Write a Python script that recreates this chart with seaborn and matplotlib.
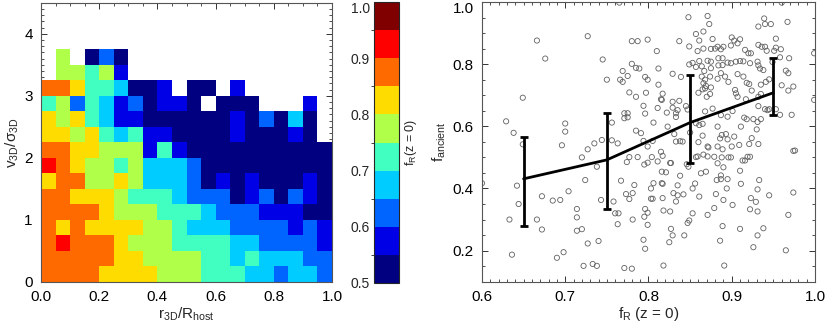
import numpy as np
import pandas as pd
import matplotlib
matplotlib.use("Agg")
import matplotlib.pyplot as plt
from matplotlib.colors import ListedColormap, BoundaryNorm
from matplotlib.ticker import MultipleLocator, FormatStrFormatter
import seaborn as sns

sns.set_style("ticks")
plt.rcParams["font.family"] = ["Liberation Sans", "DejaVu Sans"]
plt.rcParams["mathtext.fontset"] = "custom"
plt.rcParams["mathtext.rm"] = "Liberation Sans"
plt.rcParams["mathtext.it"] = "Liberation Sans:italic"
plt.rcParams["mathtext.default"] = "regular"

# --- left panel: f_R(z=0) binned in r/R_host (columns) and v/sigma (rows, bottom first)
# one digit per cell: level k means f_R in [0.5 + 0.05k, 0.55 + 0.05k), "." = no halos
r_edges = np.linspace(0.0, 1.0, 21)
v_edges = np.linspace(0.0, 3.75, 16)
level_rows = [
    "77776666555444332332",
    "77777665555443433322",
    "78777655544443322221",
    "76766665543332222121",
    "77776555444322211100",
    "77666544432220120210",
    "67755653332010100010",
    "87655453332000000000",
    "77665551410000000000",
    "6656434110000100010.",
    "6564311000000102030.",
    "45243120110.000...1.",
    "776443001.00.1......",
    ".55451..............",
    ".5.020..............",
]
level_colors = ["#000080", "#0000E6", "#0064FF", "#00CCFF", "#40FFC0",
                "#B0FF48", "#FFDC00", "#FF6A00", "#FF0000", "#800000"]
cbar_ticks = [0.5, 0.6, 0.7, 0.8, 0.9, 1.0]

# --- right panel: individual halos
frac_r = [
    0.666, 0.676, 0.727, 0.649, 0.629, 0.638, 0.700, 0.700, 0.649, 0.696, 0.735, 0.727,
    0.720, 0.738, 0.724, 0.600, 0.642, 0.704, 0.672, 0.685, 0.694, 0.644, 0.714, 0.714,
    0.633, 0.666, 0.672, 0.714, 0.720, 0.727, 0.740, 0.636, 0.698, 0.690, 0.722, 0.733,
    0.738,
    0.765, 0.848, 0.871, 0.857, 0.866, 0.780, 0.787, 0.799, 0.837, 0.810, 0.849, 0.861,
    0.859, 0.866, 0.745, 0.780, 0.785, 0.789, 0.812, 0.769, 0.849, 0.853, 0.857, 0.864,
    0.867, 0.750, 0.766, 0.769, 0.775, 0.796, 0.799, 0.829, 0.839, 0.864, 0.868, 0.777,
    0.785, 0.797, 0.812, 0.817, 0.815, 0.860, 0.865, 0.868, 0.794, 0.811, 0.816, 0.829,
    0.837, 0.829, 0.822, 0.833, 0.833, 0.845, 0.771, 0.775, 0.771, 0.796, 0.756, 0.806,
    0.823, 0.785, 0.791, 0.831, 0.857, 0.861, 0.865, 0.865, 0.744, 0.756, 0.763, 0.794,
    0.799, 0.805, 0.838, 0.841, 0.860, 0.774, 0.777, 0.787, 0.795, 0.799, 0.804, 0.811,
    0.815, 0.817, 0.826, 0.827, 0.846, 0.857, 0.859, 0.866, 0.869, 0.863, 0.816, 0.821,
    0.838, 0.767, 0.783, 0.803, 0.806, 0.816, 0.817, 0.835, 0.853, 0.856, 0.773, 0.781,
    0.777, 0.803, 0.805, 0.817, 0.830, 0.835, 0.842, 0.833, 0.861, 0.743, 0.758, 0.760,
    0.764, 0.796, 0.799, 0.795, 0.818, 0.826, 0.853, 0.781, 0.763, 0.799, 0.827, 0.849,
    0.847, 0.871, 0.829, 0.825, 0.843, 0.794, 0.796, 0.771, 0.780, 0.818, 0.835, 0.847,
    0.850, 0.833, 0.848, 0.871, 0.868, 0.871, 0.775, 0.861, 0.871, 0.866, 0.869, 0.870,
    0.873, 0.939, 0.932, 0.940, 0.947, 0.967, 0.877, 0.900, 0.903, 0.910, 0.907, 0.883,
    0.890, 0.899, 0.875, 0.880, 0.887, 0.916, 0.920, 0.923, 0.932, 0.936, 0.940, 0.942,
    0.953, 0.953, 0.951, 0.959, 0.969, 0.875, 0.884, 0.889, 0.895, 0.899, 0.905, 0.910,
    0.914, 0.922, 0.931, 0.932, 0.934, 0.938, 0.958, 0.884, 0.889, 0.875, 0.887, 0.892,
    0.907, 0.914, 0.883, 0.874, 0.896, 0.918, 0.921, 0.935, 0.941, 0.945, 0.965, 0.968,
    0.960, 0.974, 0.968, 0.875, 0.874, 0.904, 0.905, 0.907, 0.924, 0.917, 0.932, 0.935,
    0.901, 0.895, 0.877, 0.887, 0.932, 0.940, 0.943, 0.945, 0.953, 0.958, 0.972, 0.915,
    0.918, 0.926, 0.931, 0.935, 0.911, 0.883, 0.930, 0.888, 0.893, 0.886, 0.895, 0.903,
    0.924, 0.909, 0.921, 0.932, 0.883, 0.889, 0.900, 0.872, 0.879, 0.888, 0.896, 0.899,
    0.919, 0.922, 0.913, 0.916, 0.974, 0.976, 0.883, 0.890, 0.910, 0.887, 0.882, 0.887,
    0.895, 0.933, 0.911, 0.894, 0.931, 0.974, 0.881, 0.945, 0.890, 0.923, 0.929, 0.901,
    0.879, 0.922, 0.931, 0.968, 0.889, 0.910, 0.938, 0.931, 0.886, 0.926, 0.965, 0.891,
    0.999, 0.999, 0.949, 0.960,
]
f_ancient = [
    0.876, 0.818, 0.890, 0.692, 0.616, 0.579, 0.609, 0.583, 0.542, 0.539, 0.545, 0.526,
    0.500, 0.470, 0.427, 0.417, 0.409, 0.391, 0.375, 0.361, 0.363, 0.350, 0.334, 0.307,
    0.300, 0.300, 0.268, 0.264, 0.269, 0.223, 0.231, 0.187, 0.195, 0.177, 0.151, 0.157,
    0.151,
    0.998, 0.951, 0.955, 0.897, 0.905, 0.874, 0.874, 0.879, 0.874, 0.842, 0.857, 0.876,
    0.842, 0.850, 0.815, 0.801, 0.788, 0.786, 0.786, 0.778, 0.799, 0.804, 0.791, 0.793,
    0.778, 0.750, 0.750, 0.743, 0.762, 0.759, 0.750, 0.769, 0.759, 0.760, 0.750, 0.709,
    0.695, 0.708, 0.734, 0.705, 0.687, 0.708, 0.719, 0.722, 0.666, 0.659, 0.685, 0.679,
    0.682, 0.660, 0.644, 0.642, 0.630, 0.665, 0.642, 0.642, 0.626, 0.641, 0.612, 0.612,
    0.599, 0.586, 0.578, 0.575, 0.610, 0.604, 0.608, 0.570, 0.556, 0.555, 0.545, 0.553,
    0.535, 0.553, 0.552, 0.551, 0.549, 0.485, 0.501, 0.501, 0.477, 0.483, 0.501, 0.487,
    0.518, 0.505, 0.482, 0.482, 0.478, 0.501, 0.503, 0.509, 0.454, 0.449, 0.454, 0.452,
    0.441, 0.425, 0.411, 0.400, 0.417, 0.417, 0.415, 0.410, 0.400, 0.416, 0.382, 0.385,
    0.366, 0.367, 0.367, 0.369, 0.385, 0.378, 0.381, 0.358, 0.374, 0.363, 0.358, 0.320,
    0.320, 0.334, 0.322, 0.309, 0.329, 0.326, 0.320, 0.300, 0.285, 0.283, 0.270, 0.297,
    0.289, 0.315, 0.249, 0.227, 0.249, 0.235, 0.206, 0.144, 0.142, 0.152, 0.652, 0.654,
    0.580, 0.551, 0.470, 0.503, 0.648, 0.535, 0.629, 0.810, 0.811, 0.739, 0.730, 0.695,
    0.929, 0.947, 0.921, 0.929, 0.929, 0.936, 0.881, 0.886, 0.876, 0.880, 0.867, 0.856,
    0.856, 0.860, 0.849, 0.850, 0.848, 0.846, 0.835, 0.835, 0.862, 0.856, 0.856, 0.843,
    0.882, 0.853, 0.843, 0.848, 0.819, 0.808, 0.819, 0.819, 0.805, 0.803, 0.808, 0.810,
    0.809, 0.803, 0.808, 0.796, 0.786, 0.781, 0.822, 0.796, 0.797, 0.787, 0.771, 0.760,
    0.768, 0.760, 0.753, 0.760, 0.743, 0.740, 0.736, 0.734, 0.743, 0.751, 0.779, 0.771,
    0.732, 0.728, 0.715, 0.725, 0.704, 0.717, 0.706, 0.695, 0.715, 0.687, 0.695, 0.704,
    0.649, 0.631, 0.657, 0.636, 0.665, 0.655, 0.652, 0.655, 0.655, 0.637, 0.637, 0.628,
    0.623, 0.623, 0.614, 0.623, 0.599, 0.599, 0.590, 0.572, 0.575, 0.561, 0.558, 0.567,
    0.562, 0.540, 0.543, 0.543, 0.535, 0.526, 0.535, 0.532, 0.502, 0.500, 0.500, 0.500,
    0.502, 0.502, 0.490, 0.490, 0.521, 0.522, 0.481, 0.468, 0.457, 0.442, 0.427, 0.430,
    0.430, 0.427, 0.415, 0.400, 0.397, 0.387, 0.382, 0.378, 0.363, 0.369, 0.357, 0.347,
    0.337, 0.333, 0.326, 0.315, 0.279, 0.270, 0.272, 0.249, 0.232, 0.211, 0.201, 0.152,
    0.835, 0.685, 0.807, 0.998,
]

# binned median and scatter
bin_centers = [0.65, 0.75, 0.85, 0.95]
bin_median = [0.431, 0.492, 0.612, 0.708]
bin_low = [0.280, 0.333, 0.481, 0.637]
bin_high = [0.567, 0.644, 0.765, 0.819]

fig = plt.figure(figsize=(8.3, 3.32), dpi=100)
ax1 = fig.add_axes([0.0494, 0.1515, 0.3506, 0.840])
cax = fig.add_axes([0.4506, 0.1476, 0.0301, 0.846])
ax2 = fig.add_axes([0.5807, 0.1515, 0.4012, 0.8425])

cmap = ListedColormap(level_colors)
norm = BoundaryNorm(np.linspace(0.5, 1.0, 11), cmap.N)
levels = np.array([[np.nan if c == "." else 0.525 + 0.05 * int(c) for c in row]
                   for row in level_rows])
mesh = ax1.pcolormesh(r_edges, v_edges, levels, cmap=cmap, norm=norm)
ax1.set_xlim(0, 1)
ax1.set_ylim(0, 4.5)
ax1.xaxis.set_major_locator(MultipleLocator(0.2))
ax1.xaxis.set_minor_locator(MultipleLocator(0.05))
ax1.xaxis.set_major_formatter(FormatStrFormatter("%.1f"))
ax1.yaxis.set_major_locator(MultipleLocator(1))
ax1.yaxis.set_minor_locator(MultipleLocator(0.1))
ax1.set_xlabel(r"r$_{3D}$/R$_{host}$", fontsize=11, labelpad=1)
ax1.set_ylabel(r"v$_{3D}$/σ$_{3D}$", fontsize=11, labelpad=2)

cb = fig.colorbar(mesh, cax=cax, ticks=cbar_ticks)
cb.outline.set_linewidth(0.8)
cax.yaxis.set_ticks_position("left")
cax.yaxis.set_label_position("right")
cax.tick_params(length=0, labelsize=10, pad=3)
cax.yaxis.set_major_formatter(FormatStrFormatter("%.1f"))
cb.set_label(r"f$_R$(z = 0)", fontsize=9, labelpad=3)

df = pd.DataFrame({"f_R": frac_r, "f_ancient": f_ancient})
sns.scatterplot(data=df, x="f_R", y="f_ancient", ax=ax2, marker="o", s=14,
                facecolor="none", edgecolor="#606060", linewidth=0.6, zorder=2)
sns.lineplot(x=bin_centers, y=bin_median, ax=ax2, color="black", linewidth=2.0, zorder=3)
yerr = [np.array(bin_median) - np.array(bin_low), np.array(bin_high) - np.array(bin_median)]
ax2.errorbar(bin_centers, bin_median, yerr=yerr, fmt="none", ecolor="black",
             elinewidth=2.0, capsize=3, capthick=2.0, zorder=4)
ax2.set_xlim(0.6, 1.0)
ax2.set_ylim(0.1, 1.0)
ax2.xaxis.set_major_locator(MultipleLocator(0.1))
ax2.xaxis.set_minor_locator(MultipleLocator(0.01))
ax2.yaxis.set_major_locator(MultipleLocator(0.2))
ax2.yaxis.set_minor_locator(MultipleLocator(0.05))
ax2.xaxis.set_major_formatter(FormatStrFormatter("%.1f"))
ax2.yaxis.set_major_formatter(FormatStrFormatter("%.1f"))
ax2.set_xlabel(r"f$_R$ (z = 0)", fontsize=11, labelpad=1)
ax2.set_ylabel(r"f$_{ancient}$", fontsize=11, labelpad=3)

for ax in (ax1, ax2):
    ax.tick_params(which="both", direction="in", top=True, right=True,
                   colors="#333333", labelcolor="black", labelsize=11)
    ax.tick_params(which="major", length=4.5, width=0.7, pad=6)
    ax.tick_params(which="minor", length=2.2, width=0.6)
    for sp in ax.spines.values():
        sp.set_color("#555555")
        sp.set_linewidth(0.8)

# the top labels sit just under the frame edge, as in the original
fig.canvas.draw()
for lab in ax2.get_yticklabels() + cax.get_yticklabels():
    if lab.get_text() == "1.0":
        lab.set_verticalalignment("top")

fig.savefig("out.png", dpi=100)
